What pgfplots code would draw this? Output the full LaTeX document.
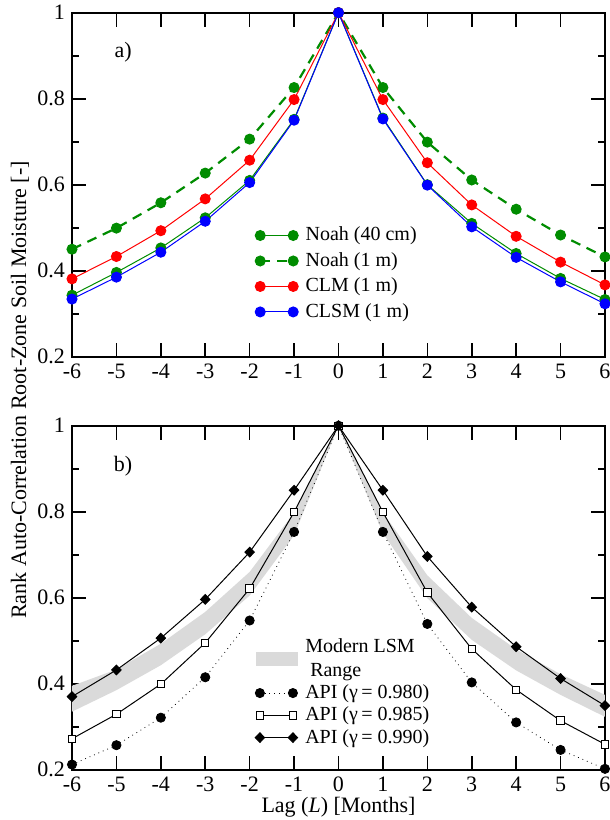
\documentclass[border=0pt]{standalone}
\usepackage{fontspec}
\setmainfont{Liberation Serif}
\usepackage{pgfplots}
\pgfplotsset{compat=1.18}
\definecolor{ggreen}{RGB}{0,140,0}
\definecolor{bandgray}{RGB}{218,218,218}
\pgfplotsset{
 common/.style={
  scale only axis, width=266.5pt, height=172pt,
  xmin=-6, xmax=6, ymin=0.2, ymax=1,
  xtick={-6,-5,-4,-3,-2,-1,0,1,2,3,4,5,6},
  ytick={0.2,0.4,0.6,0.8,1},
  minor y tick num=1,
  major tick length=7pt, minor tick length=3.5pt,
  tick align=inside, tick pos=both,
  axis line style={line width=0.8pt},
  every tick/.style={line width=0.8pt, black},
  /pgf/number format/assume math mode=true,
  tick label style={font=\fontsize{11}{13}\selectfont},
  clip=false,
  legend cell align=left,
  legend style={draw=none, fill=none, inner sep=0pt, anchor=north west,
    font=\fontsize{10}{12}\selectfont, column sep=2.5pt,
    nodes={inner sep=1.2pt}},
  legend image code/.code={\draw[mark repeat=1,mark phase=1] plot coordinates {(0cm,0cm) (0.58cm,0cm)};},
 },
 cmark/.style={mark=*, mark size=2.5pt},
}
\begin{document}
\begin{tikzpicture}
\useasboundingbox (-36pt,6.35pt) rectangle (269pt,-403.65pt);
% ---------- panel a ----------
\begin{axis}[common, at={(0pt,0pt)}, anchor=north west,
  legend style={at={(0.343,0.385)}, row sep=1.9pt}]
\addplot[ggreen, line width=0.5pt, cmark, mark options={solid, fill=ggreen}] coordinates {
(-6,0.343)(-5,0.396)(-4,0.453)(-3,0.523)(-2,0.610)(-1,0.752)(0,1)(1,0.755)(2,0.600)(3,0.510)(4,0.440)(5,0.382)(6,0.333)};
\addlegendentry{Noah (40 cm)}
\addplot[ggreen, line width=1.1pt, dash pattern=on 5pt off 3.5pt, cmark, mark options={solid, fill=ggreen, line width=0.5pt}] coordinates {
(-6,0.450)(-5,0.499)(-4,0.558)(-3,0.627)(-2,0.706)(-1,0.826)(0,1)(1,0.826)(2,0.699)(3,0.611)(4,0.543)(5,0.483)(6,0.432)};
\addlegendentry{Noah (1 m)}
\addplot[red, line width=0.5pt, cmark, mark options={solid, fill=red}] coordinates {
(-6,0.381)(-5,0.433)(-4,0.493)(-3,0.567)(-2,0.657)(-1,0.798)(0,1)(1,0.798)(2,0.651)(3,0.553)(4,0.480)(5,0.420)(6,0.367)};
\addlegendentry{CLM (1 m)}
\addplot[blue, line width=0.5pt, cmark, mark options={solid, fill=blue}] coordinates {
(-6,0.334)(-5,0.385)(-4,0.443)(-3,0.515)(-2,0.605)(-1,0.750)(0,1)(1,0.753)(2,0.599)(3,0.502)(4,0.431)(5,0.374)(6,0.323)};
\addlegendentry{CLSM (1 m)}
\node[font=\fontsize{11}{13}\selectfont] at (axis cs:-4.85,0.909) {a)};
\end{axis}
% ---------- panel b ----------
\begin{axis}[common, at={(0pt,-206.5pt)}, anchor=north west,
  legend style={at={(0.343,0.39)}, row sep=0.3pt},
  xlabel={Lag (\textit{L}) [Months]},
  xlabel style={at={(axis description cs:0.5,0)}, anchor=base, yshift=-21.5pt, font=\fontsize{11}{13}\selectfont}]
\addplot[draw=none, fill=bandgray, forget plot] coordinates {
(-6,0.395)(-5,0.433)(-4,0.493)(-3,0.567)(-2,0.660)(-1,0.798)(0,1)(1,0.798)(2,0.652)(3,0.553)(4,0.480)(5,0.422)(6,0.374)
(6,0.323)(5,0.374)(4,0.431)(3,0.502)(2,0.599)(1,0.750)(0,1)(-1,0.745)(-2,0.605)(-3,0.515)(-4,0.443)(-5,0.385)(-6,0.335)};
\addlegendimage{legend image code/.code={\fill[bandgray] (-0.07cm,-0.11cm) rectangle (0.66cm,0.11cm);}}
\addlegendentry[align=left]{Modern LSM\\\ Range}
\addplot[black, line width=0.4pt, dotted, mark=*, mark size=2.3pt, mark options={solid}] coordinates {
(-6,0.212)(-5,0.257)(-4,0.321)(-3,0.415)(-2,0.547)(-1,0.753)(0,1)(1,0.753)(2,0.539)(3,0.403)(4,0.310)(5,0.246)(6,0.202)};
\addlegendentry{API (γ\thinspace= 0.980)}
\addplot[black, line width=0.5pt, mark=square*, mark size=1.85pt, mark options={solid, fill=white}] coordinates {
(-6,0.272)(-5,0.329)(-4,0.399)(-3,0.495)(-2,0.621)(-1,0.799)(0,1)(1,0.799)(2,0.612)(3,0.481)(4,0.386)(5,0.314)(6,0.259)};
\addlegendentry{API (γ\thinspace= 0.985)}
\addplot[black, line width=0.5pt, mark=diamond*, mark size=2.4pt, mark options={solid, fill=black, xscale=1.3}] coordinates {
(-6,0.370)(-5,0.432)(-4,0.506)(-3,0.596)(-2,0.706)(-1,0.850)(0,1)(1,0.850)(2,0.696)(3,0.578)(4,0.486)(5,0.412)(6,0.349)};
\addlegendentry{API (γ\thinspace= 0.990)}
\node[font=\fontsize{11}{13}\selectfont] at (axis cs:-4.85,0.905) {b)};
\end{axis}
\node[rotate=90, font=\fontsize{11}{13}\selectfont] at (-26pt,-188.6pt) {Rank Auto-Correlation Root-Zone Soil Moisture [-]};
\end{tikzpicture}
\end{document}
